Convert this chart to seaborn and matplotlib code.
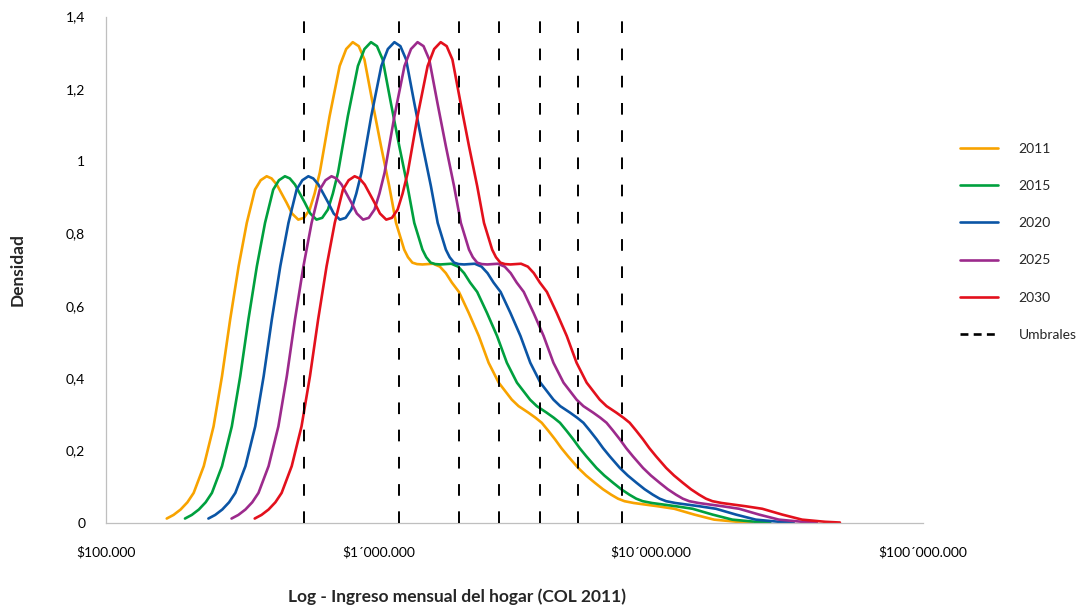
# Densidad del ingreso mensual del hogar por año, con umbrales
import matplotlib
matplotlib.use("Agg")
import matplotlib.pyplot as plt
from matplotlib.lines import Line2D
import pandas as pd
import seaborn as sns

anios = ["2011", "2015", "2020", "2025", "2030"]
colores = ["#F8A300", "#00A03E", "#0B55A5", "#9C2A8C", "#E3101C"]

# densidad (misma forma para cada año)
densidad = [0.011, 0.021, 0.036, 0.056, 0.082, 0.156, 0.266, 0.405, 0.562, 0.709,
            0.829, 0.921, 0.947, 0.958, 0.952, 0.935, 0.885, 0.855, 0.838, 0.843,
            0.866, 0.910, 0.968, 1.124, 1.263, 1.310, 1.329, 1.318, 1.281, 1.161,
            1.041, 0.931, 0.829, 0.755, 0.734, 0.719, 0.715, 0.714, 0.716, 0.708,
            0.690, 0.664, 0.638, 0.580, 0.516, 0.442, 0.387, 0.340, 0.322, 0.304, 0.290,
            0.276, 0.254, 0.230, 0.206, 0.183, 0.151, 0.130, 0.110, 0.092, 0.077,
            0.066, 0.059, 0.054, 0.050, 0.045, 0.038, 0.022, 0.008, 0.002, 0.000]

# log10 del ingreso mensual (COL 2011) para cada punto
log_2011 = [5.223, 5.248, 5.274, 5.299, 5.322, 5.359, 5.395, 5.426, 5.456, 5.487,
            5.517, 5.547, 5.568, 5.590, 5.608, 5.627, 5.663, 5.683, 5.706, 5.727,
            5.748, 5.766, 5.785, 5.821, 5.858, 5.882, 5.906, 5.928, 5.949, 5.979,
            6.010, 6.040, 6.065, 6.095, 6.109, 6.125, 6.142, 6.162, 6.201, 6.226,
            6.248, 6.270, 6.296, 6.332, 6.369, 6.405, 6.442, 6.490, 6.515, 6.551, 6.577,
            6.600, 6.624, 6.649, 6.672, 6.697, 6.734, 6.763, 6.795, 6.825, 6.855,
            6.880, 6.904, 6.938, 6.977, 7.026, 7.087, 7.160, 7.233, 7.318, 7.372]
log_2015 = [5.290, 5.315, 5.341, 5.366, 5.389, 5.426, 5.462, 5.493, 5.523, 5.554,
            5.584, 5.614, 5.635, 5.657, 5.675, 5.694, 5.730, 5.750, 5.773, 5.794,
            5.815, 5.833, 5.852, 5.888, 5.925, 5.949, 5.973, 5.995, 6.016, 6.046,
            6.077, 6.107, 6.132, 6.162, 6.176, 6.192, 6.209, 6.229, 6.268, 6.293,
            6.315, 6.337, 6.363, 6.399, 6.436, 6.472, 6.509, 6.557, 6.582, 6.618, 6.644,
            6.667, 6.691, 6.716, 6.739, 6.764, 6.801, 6.830, 6.862, 6.892, 6.922,
            6.947, 6.971, 7.005, 7.044, 7.093, 7.154, 7.227, 7.300, 7.385, 7.439]
log_2020 = [5.376, 5.401, 5.427, 5.452, 5.475, 5.512, 5.548, 5.579, 5.609, 5.640,
            5.670, 5.700, 5.721, 5.743, 5.761, 5.780, 5.816, 5.836, 5.859, 5.880,
            5.901, 5.919, 5.938, 5.974, 6.011, 6.035, 6.059, 6.081, 6.102, 6.132,
            6.163, 6.193, 6.218, 6.248, 6.262, 6.278, 6.295, 6.315, 6.354, 6.379,
            6.401, 6.423, 6.449, 6.485, 6.522, 6.558, 6.595, 6.643, 6.668, 6.704, 6.730,
            6.753, 6.777, 6.802, 6.825, 6.850, 6.887, 6.916, 6.948, 6.978, 7.008,
            7.033, 7.057, 7.091, 7.130, 7.179, 7.240, 7.313, 7.386, 7.471, 7.525]
log_2025 = [5.461, 5.486, 5.512, 5.537, 5.560, 5.597, 5.633, 5.664, 5.694, 5.725,
            5.755, 5.785, 5.806, 5.828, 5.846, 5.865, 5.901, 5.921, 5.944, 5.965,
            5.986, 6.004, 6.023, 6.059, 6.096, 6.120, 6.144, 6.166, 6.187, 6.217,
            6.248, 6.278, 6.303, 6.333, 6.347, 6.363, 6.380, 6.400, 6.439, 6.464,
            6.486, 6.508, 6.534, 6.570, 6.607, 6.643, 6.680, 6.728, 6.753, 6.789, 6.815,
            6.838, 6.862, 6.887, 6.910, 6.935, 6.972, 7.001, 7.033, 7.063, 7.093,
            7.118, 7.142, 7.176, 7.215, 7.264, 7.325, 7.398, 7.471, 7.556, 7.610]
log_2030 = [5.546, 5.571, 5.597, 5.622, 5.645, 5.682, 5.718, 5.749, 5.779, 5.810,
            5.840, 5.870, 5.891, 5.913, 5.931, 5.950, 5.986, 6.006, 6.029, 6.050,
            6.071, 6.089, 6.108, 6.144, 6.181, 6.205, 6.229, 6.251, 6.272, 6.302,
            6.333, 6.363, 6.388, 6.418, 6.432, 6.448, 6.465, 6.485, 6.524, 6.549,
            6.571, 6.593, 6.619, 6.655, 6.692, 6.728, 6.765, 6.813, 6.838, 6.874, 6.900,
            6.923, 6.947, 6.972, 6.995, 7.020, 7.057, 7.086, 7.118, 7.148, 7.178,
            7.203, 7.227, 7.261, 7.300, 7.349, 7.410, 7.483, 7.556, 7.641, 7.695]

umbrales = [532000, 1190000, 1980000, 2770000, 3940000, 5420000, 7860000]

ticks_x = [1e5, 1e6, 1e7, 1e8]
etiquetas_x = ["$100.000", "$1´000.000", "$10´000.000", "$100´000.000"]
ticks_y = [0, 0.2, 0.4, 0.6, 0.8, 1.0, 1.2, 1.4]
etiquetas_y = ["0", "0,2", "0,4", "0,6", "0,8", "1", "1,2", "1,4"]

# armo la tabla larga para seaborn
filas = []
for anio, logs in zip(anios, [log_2011, log_2015, log_2020, log_2025, log_2030]):
    for l, d in zip(logs, densidad):
        filas.append({"Año": anio, "Ingreso": 10 ** l, "Densidad": d})
df = pd.DataFrame(filas)

sns.set_style("white")
plt.rcParams["font.family"] = ["Lato", "DejaVu Sans"]

fig = plt.figure(figsize=(10.86, 6.09), dpi=100)
ax = fig.add_axes([0.0976, 0.1420, 0.7523, 0.8309])

sns.lineplot(data=df, x="Ingreso", y="Densidad", hue="Año", hue_order=anios,
             palette=colores, sort=False, estimator=None, linewidth=1.9,
             ax=ax, legend=False)

for u in umbrales:
    ax.axvline(u, color="black", linewidth=1.4, dashes=(6, 8), zorder=5)

ax.set_xscale("log")
ax.set_xlim(1e5, 1e8)
ax.set_ylim(0, 1.4)
ax.set_xticks(ticks_x)
ax.set_xticklabels(etiquetas_x)
ax.minorticks_off()
ax.set_yticks(ticks_y)
ax.set_yticklabels(etiquetas_y)
ax.set_xlabel("")
ax.set_ylabel("")

sns.despine(ax=ax)
for lado in ["left", "bottom"]:
    ax.spines[lado].set_color("#BFBFBF")
    ax.spines[lado].set_linewidth(0.9)
ax.tick_params(axis="both", direction="out", length=7, width=0.9, color="#BFBFBF",
               labelsize=10, labelcolor="black")
ax.tick_params(axis="x", pad=10)
ax.tick_params(axis="y", pad=8)

fig.text(0.4208, 0.0197, "Log - Ingreso mensual del hogar (COL 2011)",
         ha="center", va="center", fontsize=12.5, fontweight="bold")
fig.text(0.0166, 0.5566, "Densidad", ha="center", va="center", rotation=90,
         fontsize=12.5, fontweight="bold")

# leyenda a la derecha
manejadores = [Line2D([], [], color=c, linewidth=1.9) for c in colores]
manejadores.append(Line2D([], [], color="black", linewidth=1.9, dashes=(3, 2)))
ax.legend(manejadores, anios + ["Umbrales"], loc="upper left",
          bbox_to_anchor=(0.884, 0.7658), bbox_transform=fig.transFigure,
          frameon=False, fontsize=10, borderpad=0, borderaxespad=0,
          handlelength=2.73, handletextpad=1.5, labelspacing=1.82)

fig.savefig("out.png", dpi=100)
